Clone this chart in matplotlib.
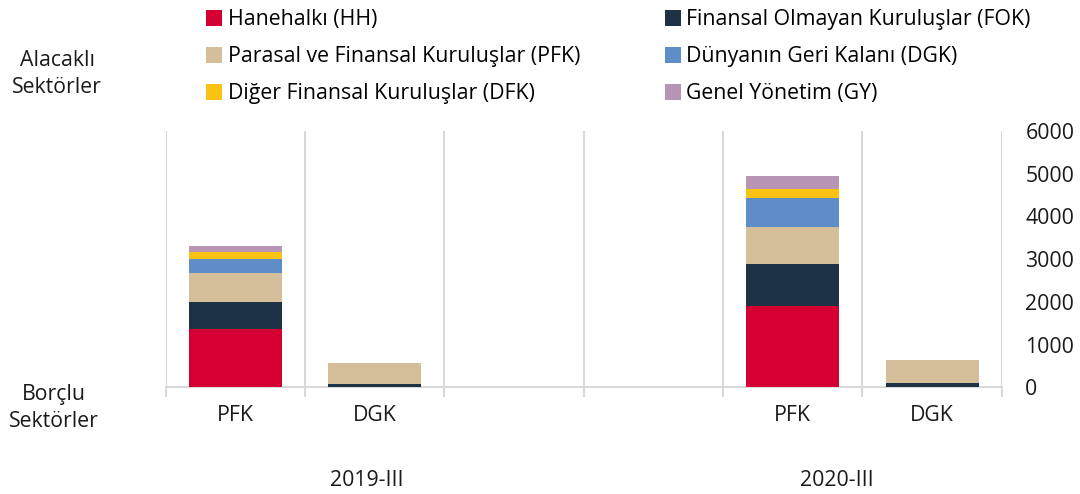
import matplotlib.pyplot as plt
import numpy as np
from matplotlib.patches import Patch

plt.rcParams['font.family'] = ['Open Sans', 'DejaVu Sans']

# Data
categories = ['PFK', 'DGK', '', '', 'PFK', 'DGK']
periods = ['2019-III', '2020-III']
series_names = ['Hanehalkı (HH)', 'Finansal Olmayan Kuruluşlar (FOK)',
                'Parasal ve Finansal Kuruluşlar (PFK)', 'Dünyanın Geri Kalanı (DGK)',
                'Diğer Finansal Kuruluşlar (DFK)', 'Genel Yönetim (GY)']
hh = [1360, 0, 0, 0, 1900, 0]
fok = [625, 70, 0, 0, 985, 110]
pfk = [680, 510, 0, 0, 865, 540]
dgk = [335, 0, 0, 0, 690, 0]
dfk = [165, 0, 0, 0, 195, 0]
gy = [130, 0, 0, 0, 310, 0]
yticks = [0, 1000, 2000, 3000, 4000, 5000, 6000]

colors = ['#D50032', '#1E3246', '#D4BF9A', '#5E8DC8', '#FAC314', '#B895B5']
fs = 15.3

fig = plt.figure(figsize=(10.8, 4.94), dpi=100)
ax = fig.add_axes([0.1534, 0.216, 0.7741, 0.519])

x = np.arange(len(categories))
bottom = np.zeros(len(categories))
handles = []
for vals, col, name in zip([hh, fok, pfk, dgk, dfk, gy], colors, series_names):
    ax.bar(x, vals, 0.667, bottom=bottom, color=col, edgecolor='none', zorder=3)
    bottom += np.array(vals)
    handles.append(Patch(facecolor=col, label=name))

ax.set_xlim(-0.5, len(categories) - 0.5)
ax.set_ylim(0, 6000)

# category tick labels
ax.set_xticks(x)
ax.set_xticklabels(categories, fontsize=fs, color='#1a1a1a')
ax.tick_params(axis='x', which='major', length=0, pad=13)
# separators
ax.set_xticks(np.arange(-0.5, len(categories)), minor=True)
ax.tick_params(axis='x', which='minor', length=7, width=1.5, color='#D9D9D9')
ax.grid(axis='x', which='minor', color='#D9D9D9', linewidth=1.5, zorder=0)

ax.yaxis.tick_right()
ax.set_yticks(yticks)
ax.set_yticklabels([str(v) for v in yticks], fontsize=fs, color='#1a1a1a')
ax.tick_params(axis='y', length=0, pad=17)

for s in ['top', 'left', 'right']:
    ax.spines[s].set_visible(False)
ax.spines['bottom'].set_color('#D9D9D9')
ax.spines['bottom'].set_linewidth(1.5)

# period labels
ax.text(0.943, -0.362, periods[0], transform=ax.get_xaxis_transform(),
        ha='center', va='center', fontsize=fs, color='#1a1a1a')
ax.text(4.317, -0.362, periods[1], transform=ax.get_xaxis_transform(),
        ha='center', va='center', fontsize=fs, color='#1a1a1a')

# side labels
fig.text(57 / 1080, 1 - 74 / 494, 'Alacaklı\nSektörler', ha='center', va='center',
         fontsize=fs, color='#1a1a1a', linespacing=1.4)
fig.text(54 / 1080, 1 - 408 / 494, 'Borçlu\nSektörler', ha='center', va='center',
         fontsize=fs, color='#1a1a1a', linespacing=1.4)

order = [0, 2, 4, 1, 3, 5]
fig.legend([handles[i] for i in order], [series_names[i] for i in order],
           ncol=2, loc='upper left', bbox_to_anchor=(200 / 1080, 1 - 3 / 494),
           frameon=False, fontsize=fs, handlelength=0.75, handleheight=0.75,
           handletextpad=0.25, columnspacing=4.0, labelspacing=0.75,
           borderaxespad=0, borderpad=0.3)

plt.savefig('out.png', dpi=100)
